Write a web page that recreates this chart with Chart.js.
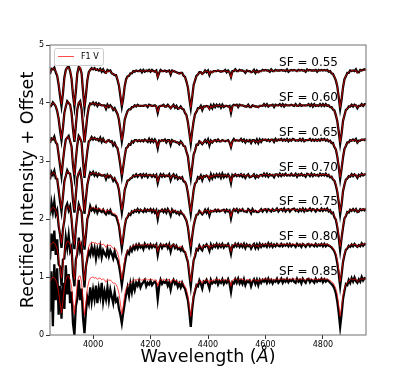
<!DOCTYPE html>
<html><head><meta charset="utf-8">
<script src="https://cdn.jsdelivr.net/npm/chart.js@4.4.0/dist/chart.umd.min.js"></script>
<style>html,body{margin:0;padding:0;background:#fff;}canvas{display:block;}</style>
</head><body>
<canvas id="c" width="407" height="377"></canvas>
<script>
// Wavelength grid (Angstrom): 3850 .. 4950 every 5 A
const wlStart = 3850, wlStep = 5;
const scaleFactors = ['0.55','0.60','0.65','0.70','0.75','0.80','0.85'];
const offsets = [3.6, 3.0, 2.4, 1.8, 1.2, 0.6, 0.0];
const xTicks = [4000, 4200, 4400, 4600, 4800];
const yTicks = [0, 1, 2, 3, 4, 5];
const templateLabel = 'F1 V';

// F1 V template (rectified)
const templateF1V = [
0.92,0.97,1.00,0.99,0.95,0.88,0.74,0.55,0.38,0.58,
0.82,0.95,1.02,1.01,0.96,0.84,0.56,0.36,0.62,0.90,
1.01,1.02,0.90,0.62,0.34,0.55,0.80,0.92,0.98,0.99,
1.00,0.98,0.99,0.96,0.98,0.98,0.95,0.97,0.95,0.91,
0.96,0.94,0.95,0.92,0.89,0.90,0.87,0.82,0.72,0.55,
0.36,0.50,0.70,0.80,0.85,0.88,0.90,0.92,0.94,0.95,
0.95,0.96,0.94,0.96,0.94,0.96,0.95,0.97,0.94,0.96,
0.95,0.96,0.94,0.95,0.95,0.84,0.93,0.96,0.94,0.96,
0.95,0.93,0.96,0.95,0.90,0.95,0.96,0.93,0.94,0.91,
0.90,0.93,0.91,0.88,0.84,0.78,0.68,0.50,0.32,0.52,
0.70,0.80,0.86,0.90,0.92,0.94,0.89,0.93,0.95,0.94,
0.95,0.89,0.95,0.92,0.96,0.94,0.96,0.95,0.96,0.93,
0.96,0.94,0.96,0.94,0.95,0.94,0.84,0.94,0.96,0.97,
0.96,0.94,0.96,0.97,0.95,0.96,0.93,0.95,0.96,0.94,
0.92,0.95,0.96,0.93,0.95,0.92,0.96,0.94,0.96,0.97,
0.96,0.97,0.95,0.95,0.97,0.96,0.94,0.96,0.97,0.95,
0.97,0.96,0.97,0.95,0.96,0.97,0.95,0.97,0.96,0.97,
0.96,0.97,0.94,0.96,0.97,0.96,0.97,0.95,0.95,0.97,
0.97,0.96,0.97,0.95,0.97,0.96,0.95,0.96,0.97,0.96,
0.97,0.96,0.97,0.96,0.95,0.94,0.92,0.90,0.86,0.80,
0.70,0.52,0.32,0.48,0.68,0.80,0.87,0.91,0.93,0.95,
0.96,0.95,0.96,0.97,0.92,0.94,0.96,0.97,0.96,0.97,
0.98];

// Observed spectra, one per scattering factor (rectified)
const obsSF055 = [
0.90,0.99,0.98,1.01,0.93,0.87,0.72,0.52,0.35,0.56,
0.84,0.97,1.01,1.03,0.95,0.82,0.54,0.34,0.60,0.91,
1.02,1.00,0.91,0.60,0.32,0.53,0.79,0.93,0.97,1.00,
0.98,1.00,0.97,0.98,0.96,0.99,0.94,0.98,0.93,0.92,
0.97,0.95,0.96,0.91,0.90,0.88,0.88,0.80,0.70,0.52,
0.34,0.48,0.69,0.81,0.86,0.87,0.91,0.91,0.95,0.94,
0.96,0.95,0.95,0.97,0.93,0.97,0.94,0.96,0.95,0.97,
0.94,0.97,0.95,0.94,0.96,0.85,0.92,0.97,0.95,0.95,
0.96,0.94,0.95,0.96,0.89,0.96,0.95,0.94,0.93,0.92,
0.91,0.92,0.92,0.87,0.85,0.77,0.67,0.48,0.31,0.50,
0.71,0.79,0.87,0.89,0.93,0.93,0.90,0.92,0.96,0.93,
0.96,0.88,0.94,0.93,0.95,0.95,0.95,0.96,0.95,0.94,
0.95,0.95,0.97,0.93,0.96,0.93,0.85,0.95,0.95,0.98,
0.95,0.95,0.97,0.96,0.96,0.95,0.92,0.96,0.95,0.95,
0.93,0.94,0.97,0.92,0.96,0.93,0.95,0.95,0.97,0.96,
0.97,0.96,0.96,0.94,0.98,0.95,0.95,0.97,0.96,0.96,
0.96,0.97,0.96,0.96,0.95,0.98,0.94,0.96,0.97,0.96,
0.97,0.96,0.95,0.97,0.96,0.97,0.96,0.96,0.94,0.98,
0.96,0.97,0.96,0.96,0.96,0.97,0.94,0.97,0.96,0.97,
0.96,0.97,0.96,0.97,0.94,0.95,0.91,0.90,0.85,0.79,
0.69,0.50,0.30,0.46,0.67,0.81,0.86,0.92,0.92,0.96,
0.95,0.96,0.95,0.98,0.93,0.93,0.97,0.96,0.97,0.98,
0.97];
const obsSF060 = [
0.93,0.96,1.01,0.98,0.94,0.86,0.73,0.53,0.36,0.57,
0.83,0.94,1.03,1.00,0.97,0.83,0.55,0.33,0.61,0.89,
1.00,1.03,0.89,0.61,0.32,0.54,0.78,0.93,0.99,0.98,
1.01,0.97,1.00,0.95,0.99,0.97,0.96,0.96,0.96,0.90,
0.97,0.93,0.96,0.93,0.88,0.91,0.86,0.81,0.71,0.53,
0.34,0.49,0.71,0.79,0.86,0.89,0.89,0.93,0.93,0.96,
0.94,0.97,0.95,0.95,0.95,0.95,0.96,0.96,0.93,0.97,
0.96,0.95,0.95,0.96,0.94,0.83,0.94,0.95,0.95,0.97,
0.94,0.94,0.97,0.94,0.91,0.94,0.97,0.92,0.95,0.90,
0.91,0.94,0.90,0.89,0.83,0.79,0.67,0.49,0.30,0.51,
0.69,0.81,0.85,0.91,0.91,0.95,0.88,0.94,0.94,0.95,
0.94,0.90,0.96,0.91,0.97,0.93,0.97,0.94,0.97,0.92,
0.97,0.93,0.95,0.95,0.94,0.95,0.83,0.95,0.97,0.96,
0.97,0.93,0.97,0.96,0.96,0.95,0.94,0.94,0.97,0.93,
0.93,0.96,0.95,0.94,0.94,0.93,0.95,0.95,0.95,0.98,
0.95,0.98,0.94,0.96,0.96,0.97,0.93,0.97,0.96,0.96,
0.98,0.95,0.98,0.94,0.97,0.96,0.96,0.96,0.97,0.96,
0.95,0.98,0.95,0.95,0.98,0.95,0.96,0.96,0.96,0.96,
0.98,0.95,0.98,0.94,0.98,0.95,0.96,0.95,0.98,0.95,
0.98,0.95,0.98,0.95,0.96,0.93,0.93,0.89,0.87,0.79,
0.69,0.51,0.30,0.47,0.69,0.79,0.88,0.90,0.94,0.94,
0.97,0.94,0.97,0.96,0.91,0.95,0.95,0.98,0.95,0.98,
0.98];
const obsSF065 = [
0.91,0.99,0.97,1.02,0.92,0.89,0.71,0.52,0.34,0.59,
0.81,0.97,1.00,1.03,0.94,0.85,0.53,0.33,0.63,0.88,
1.03,0.99,0.92,0.59,0.31,0.56,0.77,0.94,0.96,1.01,
0.97,1.00,0.97,0.98,0.95,1.00,0.93,0.98,0.93,0.92,
0.95,0.96,0.93,0.94,0.87,0.91,0.85,0.82,0.69,0.52,
0.33,0.50,0.68,0.82,0.84,0.89,0.88,0.94,0.92,0.96,
0.96,0.94,0.96,0.94,0.96,0.94,0.97,0.95,0.93,0.98,
0.93,0.97,0.93,0.97,0.93,0.82,0.95,0.94,0.96,0.95,
0.97,0.92,0.96,0.96,0.88,0.96,0.94,0.94,0.92,0.92,
0.89,0.94,0.91,0.86,0.85,0.76,0.68,0.47,0.30,0.50,
0.71,0.78,0.88,0.88,0.94,0.92,0.89,0.92,0.96,0.92,
0.97,0.87,0.95,0.92,0.95,0.96,0.94,0.97,0.94,0.94,
0.96,0.95,0.94,0.95,0.96,0.92,0.84,0.94,0.98,0.95,
0.96,0.95,0.95,0.98,0.94,0.97,0.92,0.96,0.94,0.96,
0.91,0.96,0.96,0.92,0.97,0.91,0.97,0.93,0.97,0.96,
0.97,0.95,0.97,0.94,0.97,0.97,0.93,0.98,0.95,0.97,
0.96,0.98,0.95,0.97,0.95,0.98,0.94,0.97,0.95,0.98,
0.97,0.95,0.96,0.95,0.98,0.95,0.98,0.94,0.96,0.96,
0.96,0.98,0.95,0.97,0.95,0.97,0.95,0.97,0.95,0.98,
0.96,0.98,0.95,0.97,0.94,0.95,0.91,0.91,0.84,0.80,
0.68,0.50,0.29,0.47,0.66,0.81,0.86,0.92,0.92,0.96,
0.95,0.97,0.95,0.98,0.92,0.95,0.95,0.97,0.97,0.96,
0.99];
const obsSF070 = [
0.88,1.01,0.96,1.03,0.90,0.89,0.70,0.50,0.33,0.58,
0.85,0.94,1.04,0.99,0.98,0.82,0.52,0.31,0.62,0.91,
0.99,1.04,0.88,0.60,0.29,0.55,0.79,0.91,1.00,0.97,
1.01,0.95,0.99,0.94,0.98,0.96,0.95,0.95,0.96,0.89,
0.96,0.92,0.95,0.92,0.86,0.90,0.84,0.80,0.70,0.50,
0.31,0.48,0.70,0.78,0.86,0.87,0.90,0.91,0.95,0.93,
0.97,0.93,0.96,0.97,0.92,0.97,0.94,0.97,0.92,0.96,
0.96,0.93,0.96,0.93,0.96,0.82,0.92,0.97,0.93,0.97,
0.93,0.95,0.94,0.97,0.87,0.94,0.97,0.91,0.95,0.89,
0.92,0.90,0.92,0.85,0.84,0.78,0.65,0.47,0.29,0.49,
0.70,0.81,0.84,0.92,0.90,0.95,0.87,0.94,0.93,0.95,
0.93,0.88,0.97,0.90,0.96,0.92,0.97,0.93,0.97,0.91,
0.98,0.92,0.96,0.93,0.97,0.93,0.82,0.96,0.94,0.97,
0.94,0.96,0.94,0.97,0.93,0.96,0.91,0.95,0.97,0.92,
0.93,0.94,0.97,0.91,0.95,0.92,0.95,0.96,0.94,0.98,
0.94,0.98,0.93,0.97,0.95,0.96,0.92,0.97,0.97,0.94,
0.98,0.94,0.97,0.95,0.98,0.95,0.96,0.95,0.98,0.95,
0.95,0.98,0.93,0.97,0.95,0.98,0.95,0.96,0.93,0.98,
0.97,0.94,0.98,0.94,0.97,0.95,0.96,0.94,0.98,0.95,
0.97,0.95,0.98,0.94,0.96,0.92,0.93,0.88,0.86,0.78,
0.67,0.49,0.28,0.45,0.68,0.79,0.88,0.90,0.94,0.93,
0.97,0.94,0.97,0.95,0.91,0.96,0.94,0.98,0.95,0.97,
0.97];
const obsSF075 = [
0.86,1.08,0.92,1.10,0.88,0.95,0.68,0.53,0.30,0.62,
0.78,1.00,1.06,0.95,1.02,0.80,0.50,0.28,0.64,0.87,
1.05,0.97,0.92,0.56,0.27,0.52,0.80,0.88,1.02,0.95,
0.98,0.93,1.00,0.91,0.97,0.94,0.92,0.96,0.91,0.88,
0.94,0.90,0.95,0.88,0.87,0.86,0.85,0.77,0.68,0.49,
0.30,0.47,0.67,0.80,0.83,0.89,0.87,0.93,0.91,0.95,
0.93,0.97,0.92,0.96,0.94,0.92,0.97,0.93,0.96,0.94,
0.97,0.92,0.96,0.91,0.95,0.80,0.94,0.93,0.96,0.92,
0.96,0.91,0.97,0.93,0.86,0.96,0.92,0.94,0.90,0.92,
0.88,0.93,0.89,0.87,0.82,0.77,0.66,0.46,0.28,0.50,
0.68,0.79,0.87,0.88,0.94,0.91,0.88,0.91,0.96,0.91,
0.96,0.86,0.94,0.93,0.93,0.96,0.93,0.96,0.93,0.94,
0.95,0.96,0.92,0.96,0.93,0.95,0.81,0.93,0.97,0.94,
0.97,0.92,0.96,0.94,0.97,0.93,0.93,0.92,0.97,0.95,
0.90,0.97,0.93,0.94,0.92,0.92,0.94,0.97,0.93,0.96,
0.97,0.93,0.97,0.95,0.93,0.97,0.94,0.95,0.98,0.93,
0.96,0.97,0.94,0.98,0.93,0.96,0.97,0.93,0.96,0.97,
0.98,0.94,0.96,0.93,0.97,0.94,0.98,0.93,0.97,0.94,
0.95,0.98,0.94,0.97,0.96,0.93,0.97,0.95,0.94,0.98,
0.94,0.97,0.95,0.98,0.93,0.95,0.90,0.91,0.83,0.79,
0.66,0.48,0.26,0.47,0.65,0.81,0.85,0.92,0.91,0.96,
0.94,0.97,0.94,0.97,0.92,0.93,0.97,0.95,0.97,0.95,
0.98];
const obsSF080 = [
0.70,1.15,0.85,1.20,0.78,1.05,0.62,0.58,0.25,0.70,
0.72,1.08,0.90,1.12,0.85,0.92,0.45,0.24,0.70,0.80,
1.08,0.86,0.95,0.52,0.22,0.58,0.72,0.85,0.78,0.92,
0.80,0.90,0.72,0.88,0.78,0.92,0.74,0.86,0.80,0.76,
0.88,0.76,0.86,0.80,0.72,0.84,0.74,0.70,0.60,0.45,
0.26,0.44,0.62,0.76,0.84,0.80,0.90,0.85,0.93,0.88,
0.95,0.89,0.96,0.91,0.94,0.88,0.97,0.92,0.95,0.90,
0.96,0.91,0.95,0.92,0.96,0.78,0.92,0.96,0.90,0.95,
0.93,0.96,0.90,0.96,0.84,0.94,0.96,0.90,0.94,0.88,
0.90,0.86,0.91,0.84,0.83,0.74,0.66,0.44,0.24,0.48,
0.69,0.76,0.88,0.86,0.94,0.89,0.86,0.94,0.92,0.96,
0.92,0.85,0.96,0.90,0.95,0.92,0.97,0.91,0.96,0.92,
0.97,0.91,0.95,0.93,0.97,0.91,0.80,0.94,0.92,0.97,
0.93,0.97,0.92,0.96,0.92,0.97,0.90,0.96,0.93,0.95,
0.89,0.94,0.97,0.90,0.96,0.90,0.97,0.92,0.96,0.93,
0.96,0.92,0.98,0.93,0.97,0.92,0.96,0.93,0.97,0.94,
0.93,0.97,0.93,0.96,0.94,0.97,0.93,0.97,0.93,0.96,
0.95,0.92,0.97,0.94,0.96,0.92,0.97,0.95,0.92,0.96,
0.97,0.93,0.96,0.95,0.93,0.97,0.93,0.96,0.94,0.97,
0.93,0.97,0.93,0.96,0.94,0.93,0.91,0.88,0.84,0.77,
0.64,0.46,0.24,0.44,0.66,0.78,0.87,0.89,0.94,0.92,
0.96,0.93,0.97,0.94,0.92,0.95,0.93,0.98,0.94,0.97,
0.96];
const obsSF085 = [
0.40,1.10,0.15,1.22,0.60,1.15,0.35,0.85,0.28,0.90,
0.45,1.20,0.70,1.05,0.55,0.75,0.20,0.00,0.50,0.62,
0.95,0.60,0.80,0.30,0.03,0.40,0.65,0.55,0.82,0.58,
0.78,0.62,0.85,0.55,0.80,0.66,0.90,0.58,0.75,0.62,
0.82,0.60,0.78,0.66,0.55,0.74,0.58,0.62,0.45,0.35,
0.20,0.38,0.55,0.70,0.82,0.68,0.88,0.74,0.90,0.78,
0.90,0.85,0.93,0.82,0.88,0.91,0.95,0.84,0.90,0.87,
0.93,0.86,0.90,0.92,0.88,0.62,0.84,0.95,0.88,0.92,
0.90,0.94,0.85,0.91,0.78,0.90,0.95,0.88,0.92,0.83,
0.89,0.82,0.90,0.83,0.80,0.70,0.60,0.40,0.14,0.45,
0.66,0.76,0.86,0.84,0.94,0.88,0.80,0.92,0.90,0.95,
0.88,0.80,0.95,0.89,0.92,0.90,0.96,0.87,0.93,0.90,
0.96,0.88,0.93,0.90,0.96,0.89,0.74,0.91,0.89,0.96,
0.90,0.97,0.89,0.94,0.88,0.96,0.86,0.93,0.91,0.94,
0.84,0.92,0.96,0.88,0.95,0.86,0.95,0.90,0.95,0.92,
0.96,0.90,0.97,0.91,0.95,0.89,0.94,0.92,0.97,0.90,
0.93,0.97,0.90,0.95,0.92,0.97,0.91,0.95,0.93,0.96,
0.92,0.90,0.97,0.92,0.95,0.89,0.97,0.93,0.90,0.96,
0.97,0.91,0.95,0.93,0.90,0.97,0.92,0.95,0.93,0.97,
0.91,0.96,0.92,0.95,0.93,0.90,0.88,0.85,0.80,0.72,
0.58,0.38,0.14,0.36,0.62,0.76,0.88,0.86,0.95,0.90,
0.98,0.92,0.99,0.93,0.90,0.96,0.92,1.00,0.94,0.98,
0.97];

const observed = [obsSF055, obsSF060, obsSF065, obsSF070, obsSF075, obsSF080, obsSF085];

const FONT = "'DejaVu Sans', 'Liberation Sans', sans-serif";
const RED = 'rgba(255,0,0,0.7)';

function toPoints(arr, off) {
  return arr.map((v, i) => ({ x: wlStart + i * wlStep, y: v + off }));
}

const datasets = [];
observed.forEach((arr, k) => {
  datasets.push({
    label: 'SF = ' + scaleFactors[k],
    data: toPoints(arr, offsets[k]),
    borderColor: '#000000', borderWidth: 2.3, pointRadius: 0, tension: 0, order: 2
  });
});
offsets.forEach((off, k) => {
  datasets.push({
    label: templateLabel,
    data: toPoints(templateF1V, off),
    borderColor: RED, borderWidth: 1, pointRadius: 0, tension: 0, order: 1
  });
});

const decorations = {
  id: 'decorations',
  afterDraw(chart) {
    const ctx = chart.ctx, a = chart.chartArea;
    const xs = chart.scales.x, ys = chart.scales.y;
    ctx.save();
    // frame
    ctx.strokeStyle = '#707070'; ctx.lineWidth = 1;
    ctx.strokeRect(a.left, a.top, a.right - a.left, a.bottom - a.top);
    // SF labels
    ctx.fillStyle = '#000'; ctx.font = '12px ' + FONT;
    ctx.textAlign = 'center'; ctx.textBaseline = 'middle';
    scaleFactors.forEach((sf, k) => {
      ctx.fillText('SF = ' + sf, xs.getPixelForValue(4750), ys.getPixelForValue(offsets[k] + 1.09));
    });
    // legend
    const lx = 54.5, ly = 48.5, lw = 49, lh = 17;
    ctx.beginPath();
    ctx.roundRect(lx, ly, lw, lh, 2);
    ctx.fillStyle = 'rgba(255,255,255,0.8)'; ctx.fill();
    ctx.strokeStyle = '#cccccc'; ctx.lineWidth = 1; ctx.stroke();
    ctx.beginPath(); ctx.moveTo(58, 56.5); ctx.lineTo(74, 56.5);
    ctx.strokeStyle = RED; ctx.lineWidth = 1; ctx.stroke();
    ctx.fillStyle = '#000'; ctx.font = '8px ' + FONT;
    ctx.textAlign = 'left'; ctx.textBaseline = 'middle';
    ctx.fillText(templateLabel, 81, 57);
    // axis titles
    ctx.font = '17.5px ' + FONT;
    ctx.textAlign = 'center'; ctx.textBaseline = 'middle';
    ctx.save();
    ctx.translate(28, (a.top + a.bottom) / 2);
    ctx.rotate(-Math.PI / 2);
    ctx.fillText('Rectified Intensity + Offset', 0, 0);
    ctx.restore();
    const p1 = 'Wavelength (', p2 = 'Å', p3 = ')';
    ctx.font = '17.5px ' + FONT; const w1 = ctx.measureText(p1).width, w3 = ctx.measureText(p3).width;
    ctx.font = 'italic 17.5px ' + FONT; const w2 = ctx.measureText(p2).width;
    const cx = (a.left + a.right) / 2, ty = 357;
    let x0 = cx - (w1 + w2 + w3) / 2;
    ctx.textAlign = 'left';
    ctx.font = '17.5px ' + FONT; ctx.fillText(p1, x0, ty);
    ctx.font = 'italic 17.5px ' + FONT; ctx.fillText(p2, x0 + w1, ty);
    ctx.font = '17.5px ' + FONT; ctx.fillText(p3, x0 + w1 + w2, ty);
    ctx.restore();
  }
};

new Chart(document.getElementById('c'), {
  type: 'line',
  data: { datasets },
  options: {
    responsive: false, animation: false, devicePixelRatio: 1,
    layout: { padding: { top: 45, right: 41, left: 0, bottom: 0 } },
    plugins: { legend: { display: false }, tooltip: { enabled: false } },
    scales: {
      x: {
        type: 'linear', min: 3850, max: 4950,
        afterBuildTicks: s => { s.ticks = xTicks.map(v => ({ value: v })); },
        afterFit: s => { s.height = 42; },
        ticks: { font: { family: FONT, size: 8 }, color: '#000', padding: 1, maxRotation: 0, callback: v => String(v) },
        grid: { drawOnChartArea: false, drawTicks: true, tickLength: 4, color: '#333' },
        border: { display: false }
      },
      y: {
        type: 'linear', min: 0, max: 5,
        afterBuildTicks: s => { s.ticks = yTicks.map(v => ({ value: v })); },
        afterFit: s => { s.width = 50; },
        ticks: { font: { family: FONT, size: 8 }, color: '#000', padding: 2, callback: v => String(v) },
        grid: { drawOnChartArea: false, drawTicks: true, tickLength: 4, color: '#333' },
        border: { display: false }
      }
    }
  },
  plugins: [decorations]
});
</script>
</body></html>
